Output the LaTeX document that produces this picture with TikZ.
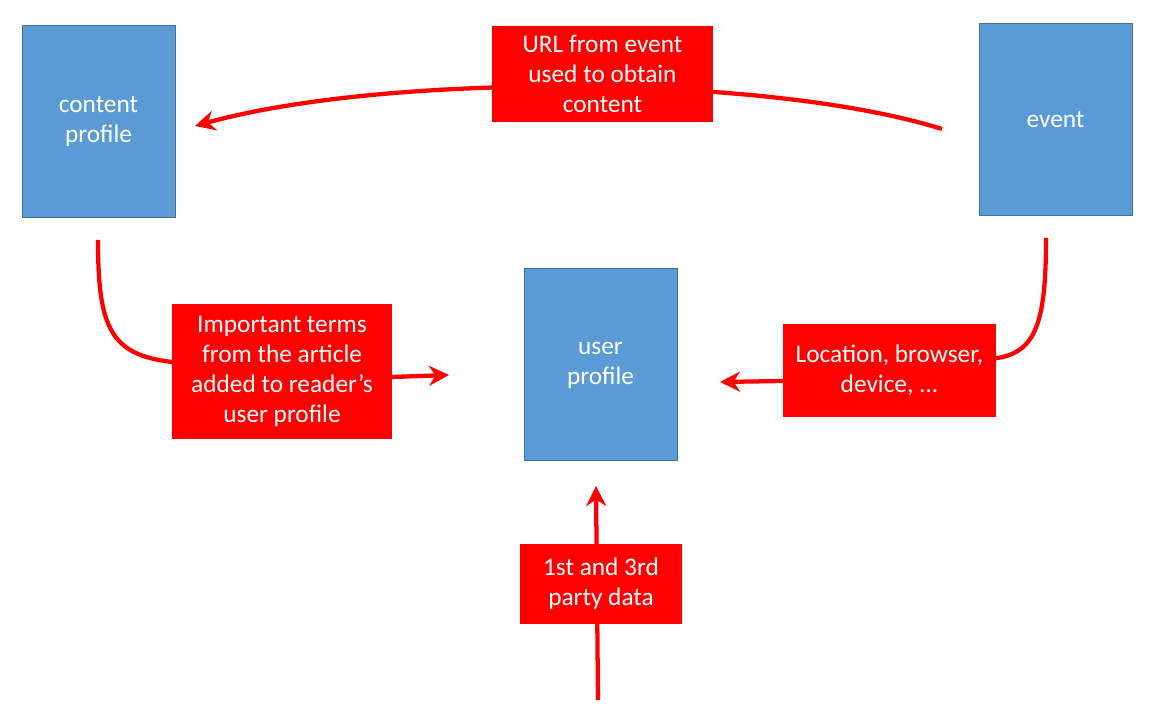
\documentclass[tikz,border=0pt]{standalone}
\usepackage{fontspec}
\setmainfont{Carlito}
\usetikzlibrary{arrows.meta, positioning}
\definecolor{profileblue}{RGB}{91, 155, 213}
\definecolor{profileedge}{RGB}{65, 113, 156}
\definecolor{notered}{RGB}{255, 0, 0}

\begin{document}
\begin{tikzpicture}[
    x=0.75pt, y=0.75pt,
    profile/.style={rectangle, draw=profileedge, fill=profileblue, line width=0.75pt, minimum width=114.75pt, minimum height=144pt, align=center, text=white, font=\fontsize{19}{22.5}\selectfont},
    note/.style={rectangle, fill=notered, inner sep=0pt, align=center, text=white, font=\fontsize{19}{22.5}\selectfont},
    flow/.style={-{Stealth[length=15pt, width=15pt]}, line width=3.2pt, color=notered}
]
\useasboundingbox (0,0) rectangle (1161,717);

% Profiles
\node[profile] (cprofile) at (98.5, 595) {content\\profile};
\node[profile] (event) at (1055.5, 597) {event};
\node[profile] (uprofile) at (600.5, 352) {user\\profile};

% Arrow ends
\coordinate (urlstart) at (942, 588);
\coordinate (urltip) at (195, 591);
\coordinate (termstart) at (98, 477);
\coordinate (termtip) at (449, 342);
\coordinate (locstart) at (1046, 479);
\coordinate (loctip) at (720, 335);
\coordinate (partystart) at (598, 17);
\coordinate (partytip) at (596, 231);

% Connectors
\draw[flow] (urlstart) .. controls (770, 642) and (390, 645) .. (urltip);
\draw[flow] (termstart) .. controls (98, 390) and (110, 362) .. (172, 355)
    .. controls (250, 348) and (330, 341) .. (392, 340) -- (termtip);
\draw[flow] (locstart) .. controls (1046, 390) and (1035, 362) .. (990, 358)
    .. controls (900, 350) and (850, 337) .. (783, 336) -- (loctip);
\draw[flow] (partystart) -- (partytip);

% Labels
\node[note, minimum width=165.75pt, minimum height=72pt] (urlnote) at (602.5, 643) {URL from event\\used to obtain\\content};
\node[note, minimum width=165pt, minimum height=101.25pt] (termnote) at (282, 345.5) {Important terms\\from the article\\added to reader’s\\user profile};
\node[note, minimum width=159.75pt, minimum height=69.75pt] (locnote) at (889.5, 346.5) {Location, browser,\\device, ...};
\node[note, minimum width=121.5pt, minimum height=60pt] (partynote) at (601, 133) {1st and 3rd\\party data};

\end{tikzpicture}
\end{document}
